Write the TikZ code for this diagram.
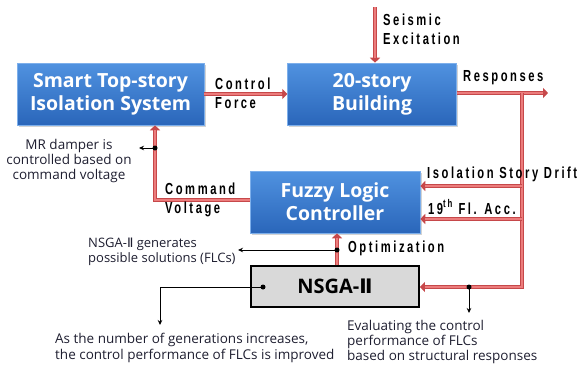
\documentclass[tikz,border=0pt]{standalone}
\usepackage{fontspec}
\setmainfont{Open Sans}
\newfontfamily\labelfont{Liberation Sans}[FakeStretch=0.7,LetterSpace=16]
\newfontfamily\romanfont{DejaVu Sans}
\usepackage{tikz}
\usetikzlibrary{arrows.meta,positioning,calc,shadows}
\definecolor{boxtop}{RGB}{80,146,224}
\definecolor{boxbot}{RGB}{42,102,186}
\definecolor{boxedge}{RGB}{125,175,235}
\definecolor{flowlight}{RGB}{236,124,124}
\definecolor{flowdark}{RGB}{198,72,74}
\definecolor{nsgagray}{RGB}{217,217,217}
\definecolor{notetext}{RGB}{30,30,48}

\begin{document}
\begin{tikzpicture}[x=1pt,y=1pt,
  blockbox/.style={rectangle,draw=boxedge,line width=0.6pt,top color=boxtop,bottom color=boxbot,
    drop shadow={opacity=0.35,shadow xshift=1.5pt,shadow yshift=-1.5pt},text=white,
    font=\bfseries\fontsize{19.5}{23}\selectfont,align=center,minimum height=62pt,inner sep=0pt},
  nsgabox/.style={rectangle,draw=black,line width=1.8pt,fill=nsgagray,
    font=\bfseries\fontsize{20}{22}\selectfont,minimum width=168pt,minimum height=41pt},
  flow/.style={draw=flowdark,line width=4.2pt,-{Triangle[length=5pt,width=10pt]},
    postaction={draw=flowlight,line width=2pt,-,shorten >=5pt}},
  lbl/.style={font=\labelfont\bfseries\fontsize{16}{19}\selectfont,align=left,inner sep=0pt,anchor=west},
  note/.style={font=\fontsize{13.5}{15.3}\selectfont,text=notetext,inner sep=0pt},
  notearrow/.style={draw=black,line width=0.8pt,-{Stealth[length=5pt,width=4.5pt]}},
  dot/.style={circle,fill=black,inner sep=0pt,minimum size=5pt}]
  \useasboundingbox (0,0) rectangle (587,-367);

  % blocks
  \node[blockbox,minimum width=187pt] (smart) at (110.5,-94) {Smart Top-story\\Isolation System};
  \node[blockbox,minimum width=169pt,right=83pt of smart] (building) {20-story\\Building};
  \node[blockbox,minimum width=170pt] (flc) at (335,-202) {Fuzzy Logic\\Controller};
  \node[nsgabox,below=32pt of flc] (nsga) {NSGA-{\romanfont Ⅱ}};

  % signal flow
  \coordinate (seis) at (375,-7);
  \coordinate (resp) at (548,-93);
  \coordinate (branch) at (522,-93);
  \coordinate (back) at (522,-287);
  \coordinate (cv) at (155,-200);
  \draw[flow] (smart.east) -- (building.west);
  \draw[flow] (seis) -- (seis |- building.north);
  \draw[flow] (building.east |- resp) -- (resp);
  \draw[flow] (branch) -- (back) -- (back -| nsga.east);
  \foreach \yy/\nm in {186/drift,219/acc}{
    \coordinate (\nm) at (522,-\yy);
    \draw[flow] (\nm) -- (\nm -| flc.east);}
  \draw[flow] (flc.west |- cv) -- (cv) -- (cv |- smart.south);
  \draw[flow] (nsga.north -| 337,0) -- (flc.south -| 337,0);

  % labels
  \node[lbl] (forcelbl) at (215,-93) {Control\\Force};
  \node[lbl] (seislbl) at (383,-29) {Seismic\\Excitation};
  \node[lbl] (resplbl) at (463,-78) {Responses};
  \node[lbl] (driftlbl) at (427,-174) {Isolation Story Drift};
  \node[lbl] (acclbl) at (428,-207) {19\textsuperscript{th} Fl. Acc.};
  \node[lbl] (cvlbl) at (165,-200) {Command\\Voltage};
  \node[lbl] (optlbl) at (348,-248) {Optimization};

  % notes
  \node[note,align=center] (mrnote) at (69,-161) {MR damper is\\controlled based on\\command voltage};
  \node[note,align=left,anchor=west,font=\fontsize{13}{15}\selectfont] (gennote) at (88,-252) {NSGA-{\romanfont Ⅱ} generates\\possible solutions (FLCs)};
  \node[note,align=left,anchor=west] (impnote) at (55,-348) {As the number of generations increases,\\the control performance of FLCs is improved};
  \node[note,align=left,anchor=west] (evalnote) at (347,-342) {Evaluating the control\\performance of FLCs\\based on structural responses};

  \node[dot] (mrdot) at (155,-148) {};
  \node[dot] (gendot) at (337,-250) {};
  \node[dot] (impdot) at (263,-287) {};
  \node[dot] (evaldot) at (469,-287) {};
  \coordinate (mrtip) at (139,-148);
  \coordinate (gentip) at (238,-250);
  \coordinate (impbend) at (160,-287);
  \coordinate (imptip) at (160,-325);
  \coordinate (evaltip) at (469,-313);
  \draw[notearrow] (mrdot.center) -- (mrtip);
  \draw[notearrow] (gendot.center) -- (gentip);
  \draw[notearrow] (impdot.center) -- (impbend) -- (imptip);
  \draw[notearrow] (evaldot.center) -- (evaltip);
\end{tikzpicture}
\end{document}
